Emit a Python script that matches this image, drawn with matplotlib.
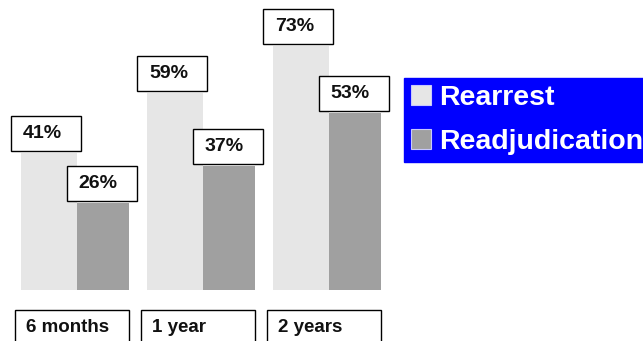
import matplotlib
matplotlib.use("Agg")
import matplotlib.pyplot as plt
from matplotlib.patches import Rectangle
from matplotlib.transforms import IdentityTransform

categories = ["6 months", "1 year", "2 years"]
series_names = ["Rearrest", "Readjudication"]
rearrest = [41, 59, 73]
readjudication = [26, 37, 53]
value_labels_r = ["41%", "59%", "73%"]
value_labels_a = ["26%", "37%", "53%"]

c_light = "#E6E6E6"
c_dark = "#A0A0A0"

W, H = 643, 341
fig = plt.figure(figsize=(W / 100, H / 100), dpi=100)
plt.rcParams["font.family"] = ["Liberation Sans", "DejaVu Sans"]

ax = fig.add_axes([0, 51 / H, 1, 1 - 51 / H])
px_x = 126.0  # pixels per category unit
x0 = -76.5 / px_x
ax.set_xlim(x0, x0 + W / px_x)
ax.set_ylim(0, 290 / 3.342)
ax.axis("off")

xs = list(range(len(categories)))
bw1, bw2 = 0.44, 0.41
b1 = ax.bar(xs, rearrest, width=-bw1, align="edge", color=c_light, label=series_names[0])
b2 = ax.bar([x + 0.005 for x in xs], readjudication, width=bw2, align="edge", color=c_dark,
            label=series_names[1])

fig.canvas.draw()
T = ax.transData
ident = IdentityTransform()

def value_box(xl, v, txt):
    px, py = T.transform((xl, v))
    r = Rectangle((px - 10, py + 2), 70, 35, transform=ident, facecolor="white",
                  edgecolor="black", linewidth=1.0, zorder=5)
    fig.add_artist(r)
    fig.text((px + 2) / W, (py + 2 + 17.5) / H, txt, ha="left", va="center",
             fontsize=14, fontweight="bold", color="#111111", zorder=6)

for i, x in enumerate(xs):
    value_box(x - bw1, rearrest[i], value_labels_r[i])
    value_box(x, readjudication[i], value_labels_a[i])

# category boxes
for i, x in enumerate(xs):
    px, _ = T.transform((x, 0))
    left = px - 62
    r = Rectangle((left, -10), 114, 41, transform=ident, facecolor="white",
                  edgecolor="black", linewidth=1.0, zorder=5)
    fig.add_artist(r)
    fig.text((left + 12) / W, 14 / H, categories[i], ha="left", va="center",
             fontsize=13.5, fontweight="bold", color="#111111", zorder=6)

leg = fig.legend(handles=[b1, b2], labels=series_names, loc="upper left",
                 bbox_to_anchor=(404 / W, 1 - 78 / H), prop={"size": 20.5, "weight": "bold"},
                 frameon=True, fancybox=False, framealpha=1, facecolor="#0000FF",
                 edgecolor="#0000FF", borderpad=0.25, handlelength=0.7, handleheight=0.7,
                 handletextpad=0.3, labelspacing=0.62, borderaxespad=0)
for t in leg.get_texts():
    t.set_color("white")
for h in leg.legend_handles:
    h.set_edgecolor("#C8C8FF")
    h.set_linewidth(0.8)

fig.savefig("out.png", dpi=100)
